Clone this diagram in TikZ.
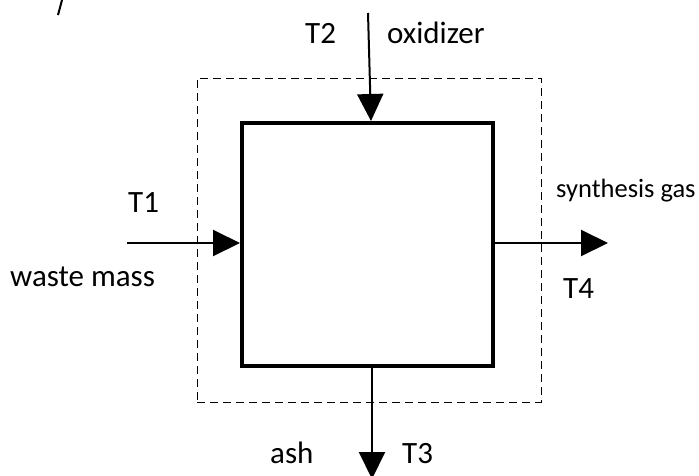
\documentclass[tikz,border=0pt]{standalone}
\usepackage{fontspec}
\setmainfont{Carlito}
\usetikzlibrary{arrows.meta,calc}
\begin{document}
\begin{tikzpicture}[x=1pt,y=-1pt,
  lbl/.style={anchor=base west,inner sep=0pt,font=\fontsize{31}{36}\selectfont},
  smalllbl/.style={anchor=base west,inner sep=0pt,font=\fontsize{26.5}{31}\selectfont},
  flow/.style={line width=2pt,-{Triangle[length=27pt,width=26pt]}},
  reactor/.style={draw,line width=4pt,minimum width=251pt,minimum height=243pt,inner sep=0pt},
  boundary/.style={draw,line width=1pt,dash pattern=on 8pt off 5pt,minimum width=344pt,minimum height=324pt,inner sep=0pt}]
\useasboundingbox (0,0) rectangle (699,475);
% fragment of a cut-off glyph at the top left
\coordinate (fragA) at (62,0);
\coordinate (fragB) at (58,15);
\draw[line width=2pt] (fragA) -- (fragB);
% boxes
\node[boundary] (sys) at (369,240) {};
\node[reactor] (box) at (367.5,244.5) {};
% connector ends
\coordinate (topin) at (368,13);
\coordinate (lin) at (127,243);
\coordinate (rout) at (608,243);
\coordinate (bout) at (372,479);
\draw[flow] (topin) -- ($(box.north)+(3.5,0)$);
\draw[flow] (lin) -- (lin -| box.west);
\draw[flow] (rout -| box.east) -- (rout);
\draw[flow] (bout |- box.south) -- (bout);
% labels
\node[lbl] (t2) at (305,43) {T2};
\node[lbl] (ox) at (387,43) {oxidizer};
\node[lbl] (t1) at (128,212) {T1};
\node[lbl] (wm) at (10,286) {waste mass};
\node[smalllbl] (sg) at (556,197) {synthesis gas};
\node[lbl] (t4) at (563,298) {T4};
\node[lbl] (ash) at (270,463) {ash};
\node[lbl] (t3) at (402,463) {T3};
\end{tikzpicture}
\end{document}
